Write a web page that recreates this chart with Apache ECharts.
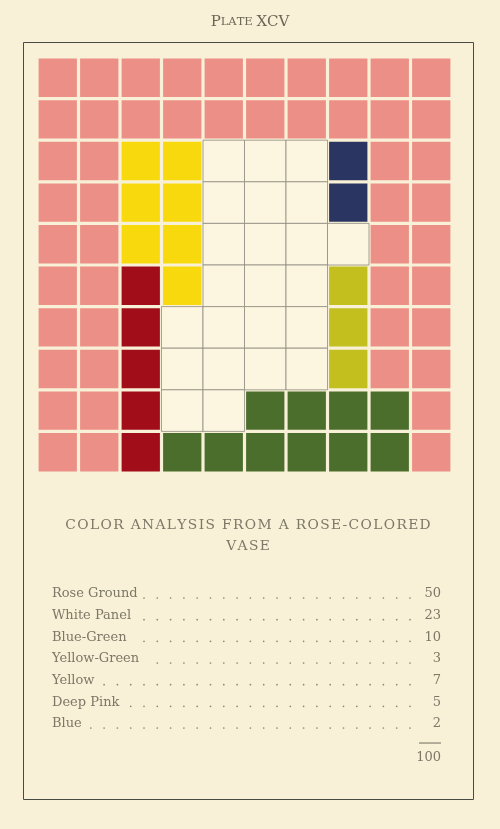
<!DOCTYPE html>
<html>
<head>
<meta charset="utf-8">
<script src="https://cdn.jsdelivr.net/npm/echarts@6/dist/echarts.min.js"></script>
<style>html,body{margin:0;padding:0;background:#f8f1d7;}#c{width:500px;height:829px;}</style>
</head>
<body>
<div id="c"></div>
<script>
// ---- data ----
const plateTitle = 'Plate XCV';
const chartTitle = ['COLOR ANALYSIS FROM A ROSE-COLORED', 'VASE'];
const categories = ['Rose Ground', 'White Panel', 'Blue-Green', 'Yellow-Green', 'Yellow', 'Deep Pink', 'Blue'];
const values = [50, 23, 10, 3, 7, 5, 2];
const total = 100;
const codes = ['R', 'W', 'G', 'L', 'Y', 'D', 'B'];
// 10 x 10 cell assignments, top row first
const cellRows = [
  'RRRRRRRRRR',
  'RRRRRRRRRR',
  'RRYYWWWBRR',
  'RRYYWWWBRR',
  'RRYYWWWWRR',
  'RRDYWWWLRR',
  'RRDWWWWLRR',
  'RRDWWWWLRR',
  'RRDWWGGGGR',
  'RRDGGGGGGR'
];
const colCats = ['0','1','2','3','4','5','6','7','8','9'];
const rowCats = ['0','1','2','3','4','5','6','7','8','9'];

// ---- styles ----
const catColors = ['#ec8f86', '#fcf5df', '#4c6e2d', '#c2bf1f', '#f8d90e', '#a10d18', '#2a3562'];
const bg = '#f8f1d7';
const textColor = '#7d7767';
const serif = '"DejaVu Serif", "Liberation Serif", serif';

// build cells
const whiteData = [], colorData = [];
cellRows.forEach((row, r) => {
  row.split('').forEach((ch, c) => {
    const k = codes.indexOf(ch);
    (k === 1 ? whiteData : colorData).push([c, r, k]);
  });
});

function renderCell(params, api) {
  const k = api.value(2);
  const p = api.coord([api.value(0), api.value(1)]);
  const s = api.size([1, 1]);
  if (k === 1) {
    return {type: 'rect', shape: {x: p[0] - s[0] / 2, y: p[1] - s[1] / 2, width: s[0], height: s[1]},
      style: {fill: catColors[1], stroke: '#8f8c80', lineWidth: 0.8}};
  }
  const g = 1.6;
  return {type: 'rect', shape: {x: p[0] - s[0] / 2 + g, y: p[1] - s[1] / 2 + g, width: s[0] - 2 * g, height: s[1] - 2 * g},
    style: {fill: catColors[k]}};
}

// measure text
const mctx = document.createElement('canvas').getContext('2d');
const tableFont = '13px ' + serif;
mctx.font = tableFont;

const graphics = [];
// frame
graphics.push({type: 'rect', shape: {x: 23.5, y: 42.5, width: 450, height: 757}, style: {fill: 'none', stroke: '#4a4a44', lineWidth: 1}, z: 0});
// plate heading (small caps: original capitals large, lowercase as small capitals)
let plateRich = '';
plateTitle.split('').forEach(ch => {
  const isCap = ch !== ch.toLowerCase();
  plateRich += '{' + (isCap ? 'a' : 'b') + '|' + ch.toUpperCase() + '}';
});
graphics.push({type: 'text', x: 250, y: 22, style: {
  text: plateRich, align: 'center', verticalAlign: 'middle',
  rich: {a: {fontFamily: serif, fontSize: 15, fill: '#6c6657'}, b: {fontFamily: serif, fontSize: 11.5, fill: '#6c6657'}}
}});
// chart title
chartTitle.forEach((t, i) => {
  graphics.push({type: 'text', x: 248, y: 525 + i * 21.5, style: {text: t.split('').join('\u200A'), align: 'center', verticalAlign: 'middle', font: '13.8px ' + serif, fill: textColor}});
});
// table
const rowY0 = 594, rowStep = 21.67, labelX = 52, valueX = 441, dotLast = 410, dotStep = 13.3;
categories.forEach((name, i) => {
  const y = rowY0 + i * rowStep;
  graphics.push({type: 'text', x: labelX, y: y, style: {text: name, font: tableFont, fill: textColor, verticalAlign: 'middle'}});
  graphics.push({type: 'text', x: valueX, y: y, style: {text: String(values[i]), font: tableFont, fill: textColor, align: 'right', verticalAlign: 'middle'}});
  const end = labelX + mctx.measureText(name).width + 6;
  for (let x = dotLast; x > end; x -= dotStep) {
    graphics.push({type: 'circle', shape: {cx: x, cy: y + 4, r: 0.85}, style: {fill: '#8d8777'}});
  }
});
const lastY = rowY0 + (categories.length - 1) * rowStep;
graphics.push({type: 'line', shape: {x1: 419, y1: lastY + 19, x2: valueX, y2: lastY + 19}, style: {stroke: '#6f6a5c', lineWidth: 1}});
graphics.push({type: 'text', x: valueX, y: lastY + 34, style: {text: String(total), font: tableFont, fill: textColor, align: 'right', verticalAlign: 'middle'}});

const chart = echarts.init(document.getElementById('c'), null, {renderer: 'canvas'});
chart.setOption({
  backgroundColor: bg,
  animation: false,
  grid: {left: 37, top: 57, width: 415, height: 416},
  xAxis: {type: 'category', data: colCats, show: false},
  yAxis: {type: 'category', data: rowCats, inverse: true, show: false},
  series: [
    {type: 'custom', renderItem: renderCell, data: whiteData, encode: {x: 0, y: 1}, z: 1},
    {type: 'custom', renderItem: renderCell, data: colorData, encode: {x: 0, y: 1}, z: 2}
  ],
  graphic: graphics
});
</script>
</body>
</html>
